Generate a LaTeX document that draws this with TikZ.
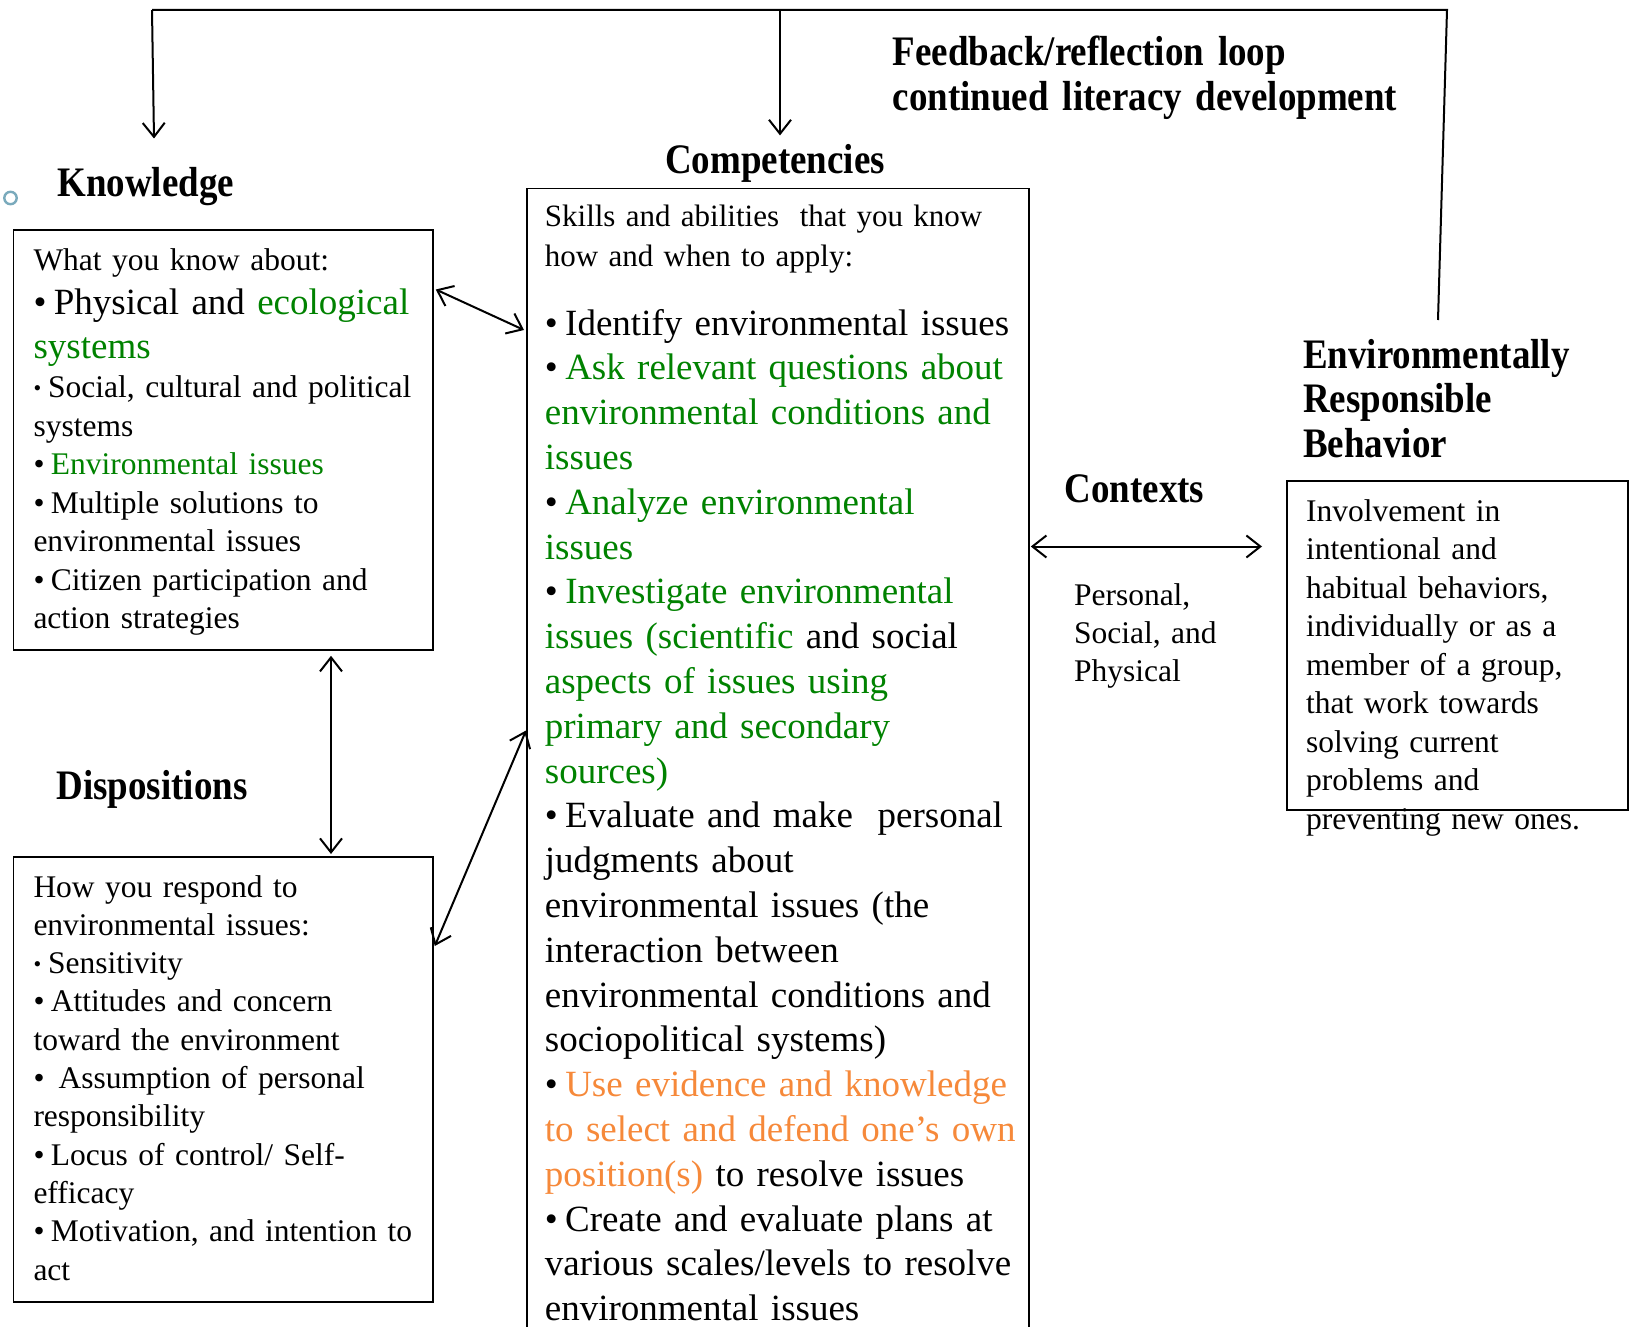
\documentclass[tikz,border=0pt]{standalone}
\usepackage{fontspec}
\setmainfont{Liberation Serif}
\newfontfamily\headfont{Liberation Serif}[FakeStretch=0.88]
\usetikzlibrary{arrows.meta,calc}
\definecolor{egreen}{RGB}{0,130,0}
\definecolor{eorange}{RGB}{246,137,58}
\definecolor{bulletblue}{RGB}{122,170,188}
\newcommand\fsA{\fontsize{31.5}{38.5}\selectfont}
\newcommand\fsAi{\fontsize{31}{39.6}\selectfont}
\newcommand\fsAd{\fontsize{31.5}{38.3}\selectfont}
\newcommand\fsAc{\fontsize{31.5}{38}\selectfont}
\newcommand\fsB{\fontsize{37}{44.8}\selectfont}
\newcommand\fsH{\headfont\bfseries\fontsize{42}{44.8}\selectfont}
\newcommand\gr[1]{\textcolor{egreen}{#1}}
\newcommand\orn[1]{\textcolor{eorange}{#1}}
\newcommand\bul{•\hspace{0.2em}}
\newcommand\sbul{\raisebox{2pt}{\fontsize{22}{22}\selectfont •}\hspace{7pt}}
\begin{document}
\begin{tikzpicture}[x=1pt,y=-1pt,
  mybarb/.tip={Straight Barb[length=14pt,width=22pt]},
  boxnode/.style={draw, line width=1.8pt, inner sep=0pt, anchor=north west},
  txt/.style={anchor=base west, inner sep=0pt, align=left, text width=620pt},
  hd/.style={anchor=base west, inner sep=0pt, font=\fsH},
  arr/.style={line width=2pt, {mybarb}-{mybarb}},
  fb/.style={line width=2pt}]
\useasboundingbox (0,0) rectangle (1633,1327);
\clip (0,0) rectangle (1633,1327);

% boxes
\node[boxnode, minimum width=419.5pt, minimum height=420pt] (kbox) at (12.5,229) {};
\node[boxnode, minimum width=419.5pt, minimum height=445pt] (dbox) at (12.5,856) {};
\node[boxnode, minimum width=502pt, minimum height=1250pt] (cbox) at (526,187.5) {};
\node[boxnode, minimum width=341pt, minimum height=329pt] (ebox) at (1286,480) {};

% headings
\node[hd] (kh) at (57.3,196) {Knowledge};
\node[hd, anchor=base] (ch) at (775,173) {Competencies};
\node[hd] (dh) at (56.2,799) {Dispositions};
\node[hd] (xh) at (1064.4,502) {Contexts};
\node[hd, align=left, text width=400pt] (erbh) at (1303,368) {Environmentally\\Responsible\\Behavior};
\node[hd, align=left, text width=600pt] (fbh) at (892.6,66) {Feedback/reflection loop\\continued literacy development};

% bullet circle
\draw[bulletblue, line width=2.4pt] (10.5,198) circle (6.2pt);

% knowledge text
\node[txt, font=\fsA] (k1) at (33.3,270) {What you know about:};
\node[txt, font=\fsB] (k2) at (33.3,314) {\bul Physical and \gr{ecological}\\\gr{systems}};
\node[txt, font=\fsA] (k3) at (33.3,397.5) {\sbul Social, cultural and political\\systems\\\bul\gr{Environmental issues}\\\bul Multiple solutions to\\environmental issues\\\bul Citizen participation and\\action strategies};

% competencies text
\node[txt, font=\fsAi] (c1) at (544.7,226.6) {Skills and abilities\ \ that you know\\how and when to apply:};
\node[txt, font=\fsB] (c2) at (544.7,335) {\bul Identify environmental issues\\
\bul\gr{Ask relevant questions about}\\
\gr{environmental conditions and}\\
\gr{issues}\\
\bul\gr{Analyze environmental}\\
\gr{issues}\\
\bul\gr{Investigate environmental}\\
\gr{issues (scientific} and social\\
\gr{aspects of issues using}\\
\gr{primary and secondary}\\
\gr{sources)}\\
\bul Evaluate and make\ \ personal\\
judgments about\\
environmental issues (the\\
interaction between\\
environmental conditions and\\
sociopolitical systems)\\
\bul\orn{Use evidence and knowledge}\\
\orn{to select and defend one’s own}\\
\orn{position(s)} to resolve issues\\
\bul Create and evaluate plans at\\
various scales/levels to resolve\\
environmental issues};

% dispositions text
\node[txt, font=\fsAd] (d1) at (33.3,897) {How you respond to\\
environmental issues:\\
\sbul Sensitivity\\
\bul Attitudes and concern\\
toward the environment\\
•\hspace{0.45em}Assumption of personal\\
responsibility\\
\bul Locus of control/ Self-\\
efficacy\\
\bul Motivation, and intention to\\
act};

% contexts text
\node[txt, font=\fsAc] (x1) at (1073.8,605) {Personal,\\Social, and\\Physical};

% ERB text
\node[txt, font=\fsA] (e1) at (1306,521) {Involvement in\\
intentional and\\
habitual behaviors,\\
individually or as a\\
member of a group,\\
that work towards\\
solving current\\
problems and\\
preventing new ones.};

% connectors
\draw[arr] ($(kbox.north east)+(2,60.5)$) -- ($(cbox.north west)+(-2,142.5)$);
\draw[arr] ($(kbox.south west)+(318.5,5)$) -- ($(dbox.north west)+(318.5,-2)$);
\draw[arr] ($(dbox.north east)+(1,90)$) -- ($(cbox.north west)+(0,543)$);
\draw[arr] ($(cbox.north east)+(1,359)$) -- ($(ebox.north west)+(-24,66.5)$);

% feedback loop
\coordinate (tl) at (152,10);
\coordinate (tm) at (780,10);
\coordinate (tr) at (1447,10);
\coordinate (kin) at (154,138.5);
\coordinate (cin) at (780,135.4);
\coordinate (erbtop) at (1438,320);
\draw[fb] (erbtop) -- (tr) -- (tl);
\draw[fb, -{mybarb}] (tl) -- (kin);
\draw[fb, -{mybarb}] (tm) -- (cin);
\end{tikzpicture}
\end{document}
